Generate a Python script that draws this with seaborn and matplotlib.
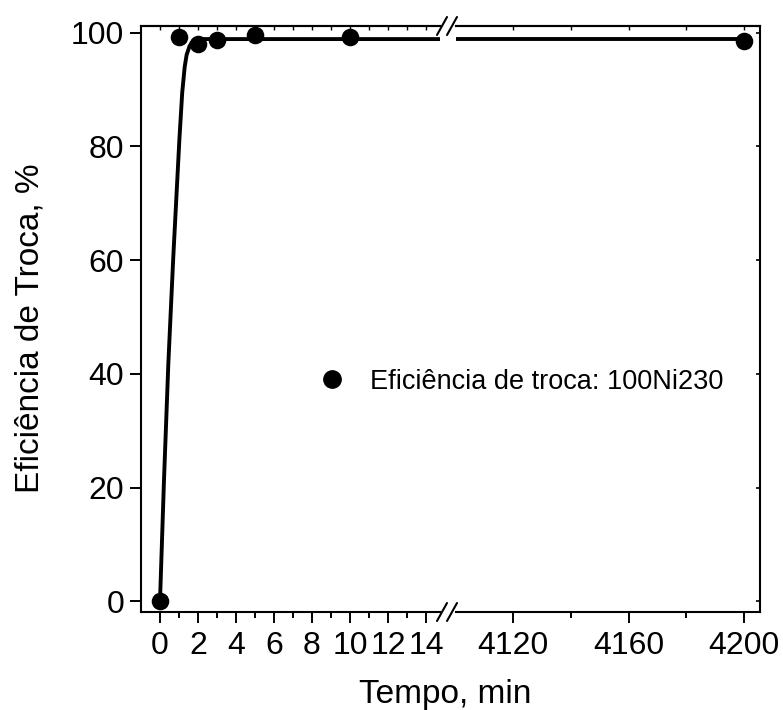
import matplotlib
matplotlib.use("Agg")
import matplotlib.pyplot as plt
import pandas as pd
import seaborn as sns
from matplotlib.lines import Line2D

tempo = [0, 1, 2, 3, 5, 10, 4200]
eficiencia = [0, 99.3, 98.1, 98.7, 99.6, 99.2, 98.6]

# curva ajustada (pontos lidos ao longo da linha)
curva_t = [0, 0.21, 0.44, 0.70, 1.02, 1.17, 1.30, 1.40, 1.55, 1.67, 1.9, 2.3, 15,
           4100, 4200]
curva_y = [0, 21.3, 41.9, 60.6, 81.2, 89.5, 94.0, 96.1, 97.6, 98.3, 98.8, 98.9, 98.9,
           98.9, 98.9]

rotulo = "Eficiência de troca: 100Ni230"
ticks_esq = [0, 2, 4, 6, 8, 10, 12, 14]
ticks_dir = [4120, 4160, 4200]

sns.set_theme(style="ticks")
plt.rcParams["font.family"] = ["Liberation Sans", "DejaVu Sans"]
plt.rcParams.update({
    "text.color": "black",
    "axes.edgecolor": "black",
    "axes.labelcolor": "black",
    "xtick.color": "black",
    "ytick.color": "black",
})

pontos = pd.DataFrame({"t": tempo, "y": eficiencia})
curva = pd.DataFrame({"t": curva_t, "y": curva_y})

W, H = 783, 710
fig = plt.figure(figsize=(W / 100, H / 100), dpi=100)


def px(x0, y0, x1, y1):
    return [x0 / W, 1 - y1 / H, (x1 - x0) / W, (y1 - y0) / H]


ax_e = fig.add_axes(px(141, 26, 440, 612))
ax_d = fig.add_axes(px(456, 26, 760, 612))

for ax in (ax_e, ax_d):
    sns.lineplot(data=curva, x="t", y="y", ax=ax, color="black", lw=2.8,
                 sort=False, estimator=None)
    sns.scatterplot(data=pontos, x="t", y="y", ax=ax, color="black", s=160,
                    linewidth=0, zorder=5)
    ax.set_ylim(-1.9, 101.2)
    ax.set_xlabel("")
    ax.set_ylabel("")
    for s in ax.spines.values():
        s.set_linewidth(1.5)
    ax.tick_params(axis="x", which="major", direction="out", length=8, width=1.4,
                   labelsize=23, pad=6)
    ax.tick_params(axis="x", which="minor", direction="out", length=4.5, width=1.4)

ax_e.set_xlim(-1, 14.74)
ax_e.set_xticks(ticks_esq)
ax_e.set_xticks(list(range(1, 15, 2)), minor=True)
ax_e.set_yticks([0, 20, 40, 60, 80, 100])
ax_e.tick_params(axis="y", direction="out", length=8, width=1.4, labelsize=23, pad=4)
ax_e.spines["right"].set_visible(False)

ax_d.set_xlim(4100.4, 4205.4)
ax_d.set_xticks(ticks_dir)
ax_d.set_xticks([4140, 4180], minor=True)
ax_d.spines["left"].set_visible(False)
ax_d.yaxis.tick_right()
ax_d.set_yticks([0, 20, 40, 60, 80, 100])
ax_d.tick_params(axis="y", direction="in", length=3, width=1.2, labelright=False)

# pequenos ticks no topo
for ax, maj, mn in ((ax_e, ticks_esq, list(range(1, 15, 2))),
                    (ax_d, ticks_dir, [4140, 4180])):
    top = ax.secondary_xaxis("top")
    top.set_xticks(maj)
    top.set_xticks(mn, minor=True)
    top.tick_params(which="both", direction="in", length=3, width=1.0,
                    labeltop=False)
    top.spines["top"].set_linewidth(1.5)

# marcas de quebra do eixo
for yb in (612, 26):
    for xs in (437, 447):
        fig.add_artist(Line2D([xs / W, (xs + 10) / W],
                              [1 - (yb + 9) / H, 1 - (yb - 9) / H],
                              color="black", lw=1.5))

fig.text(445 / W, 1 - 694 / H, "Tempo, min", ha="center", va="center",
         fontsize=24)
fig.text(30 / W, 1 - 328 / H, "Eficiência de Troca, %", ha="center",
         va="center", rotation=90, fontsize=24)

h = [Line2D([], [], marker="o", color="black", ls="none", markersize=12.5)]
fig.legend(h, [rotulo], loc="center left", bbox_to_anchor=(315.5 / W, 1 - 381.7 / H),
           frameon=False, fontsize=19.5, handlelength=1.2, handletextpad=0.82,
           borderpad=0, borderaxespad=0)

fig.savefig("out.png", dpi=100)
